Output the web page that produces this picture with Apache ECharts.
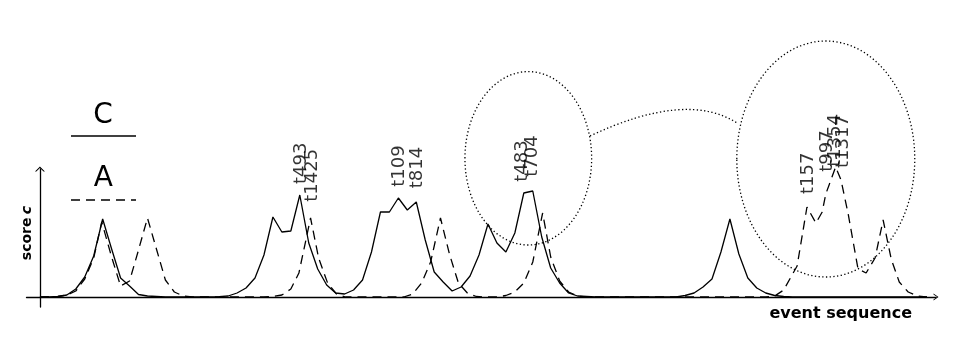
<!DOCTYPE html>
<html><head><meta charset="utf-8">
<script src="https://cdn.jsdelivr.net/npm/echarts@6/dist/echarts.min.js"></script>
<style>html,body{margin:0;padding:0;background:#fff}#c{width:963px;height:339px}</style>
</head><body><div id="c"></div>
<script>
// Series C (solid): score at each event index 0..99
const scoreC = [
  0, 0, 0.005, 0.02, 0.08, 0.20, 0.41, 0.78, 0.48, 0.19,
  0.11, 0.025, 0.01, 0.005, 0, 0, 0, 0, 0, 0,
  0.003, 0.01, 0.04, 0.09, 0.19, 0.42, 0.80, 0.65, 0.66, 1.02,
  0.54, 0.28, 0.12, 0.04, 0.03, 0.07, 0.17, 0.45, 0.85, 0.85,
  0.99, 0.87, 0.95, 0.57, 0.25, 0.15, 0.06, 0.10, 0.21, 0.42,
  0.73, 0.54, 0.45, 0.64, 1.04, 1.06, 0.60, 0.29, 0.14, 0.04,
  0.01, 0.005, 0, 0, 0, 0, 0, 0, 0, 0,
  0, 0, 0.015, 0.04, 0.10, 0.18, 0.45, 0.78, 0.43, 0.19,
  0.09, 0.04, 0.015, 0.005, 0, 0, 0, 0, 0, 0,
  0, 0, 0, 0, 0, 0, 0, 0, 0, 0
];
// Series A (dashed): event positions and scores
const eventA = [
  0, 2, 3, 4, 5, 6, 6.9, 8, 9, 10, 11, 12, 13, 14, 15, 16, 17,
  25, 26, 27, 28, 28.9, 30.2, 31.1, 32.1, 33.1, 34.1,
  40.6, 41.6, 42.6, 43.6, 44.7, 45.7, 46.7, 47.7, 48.7, 49.7,
  51, 52, 53, 54, 55, 56.1, 57, 58, 59, 60, 61,
  81, 82, 83, 84.5, 85.6, 86.6, 87.3, 87.7, 88.8, 89.4, 90.2, 91.3, 92.2, 93.2, 94.1, 95, 95.9, 96.9, 97.9, 98.9, 99
];
const scoreA = [
  0, 0.005, 0.02, 0.06, 0.18, 0.39, 0.75, 0.40, 0.11, 0.16, 0.47, 0.79, 0.48, 0.17, 0.05, 0.01, 0,
  0, 0.005, 0.02, 0.08, 0.24, 0.79, 0.39, 0.14, 0.03, 0,
  0, 0.03, 0.14, 0.35, 0.79, 0.43, 0.14, 0.04, 0.005, 0,
  0, 0.015, 0.05, 0.14, 0.35, 0.84, 0.40, 0.16, 0.05, 0.01, 0,
  0, 0.01, 0.07, 0.31, 0.90, 0.74, 0.85, 1.03, 1.30, 1.17, 0.83, 0.28, 0.24, 0.39, 0.77, 0.38, 0.15, 0.05, 0.01, 0, 0
];
// Peak annotations
const tagNames = ['t493', 't1425', 't109', 't814', 't483', 't704', 't157', 't997', 't1354', 't1317'];
const tagEvent = [29.13, 30.41, 40.07, 42.13, 53.85, 54.91, 85.77, 87.89, 88.73, 89.65];
const tagScore = [1.13, 0.953, 1.103, 1.087, 1.153, 1.203, 1.03, 1.253, 1.303, 1.29];
// Highlight zones (ellipses) and their link
const zoneEvent = [54.5, 87.7];
const zoneScore = [1.387, 1.38];
const zoneHalfEvent = [7.07, 9.93];
const zoneHalfScore = [0.867, 1.18];
const linkEvent = [61.38, 72.15, 77.79];
const linkScore = [1.61, 2.065, 1.74];
const seriesNames = ['C', 'A'];
const axisNames = ['event sequence', 'score', 'c'];

const FONT = 'DejaVu Sans';
const chart = echarts.init(document.getElementById('c'));
const arrowY = 'path://M5,0 L10,5 L8.6,5 L5,1.4 L1.4,5 L0,5 Z';
const arrowX = 'path://M3.5,0 L7,5 L6,5 L3.5,1.4 L1,5 L0,5 Z';

chart.setOption({
  animation: false,
  backgroundColor: '#fff',
  grid: {left: 26.5, right: 27, top: 169, bottom: 32},
  xAxis: {
    type: 'value', min: -1.5, max: 100,
    axisLine: {onZero: true, symbol: ['none', arrowX], symbolSize: [7, 5], lineStyle: {color: '#000', width: 1.3}},
    axisTick: {show: false}, axisLabel: {show: false}, splitLine: {show: false}
  },
  yAxis: {
    type: 'value', min: -0.1, max: 1.28,
    axisLine: {onZero: true, symbol: ['none', arrowY], symbolSize: [10, 5], lineStyle: {color: '#000', width: 1.3}},
    axisTick: {show: false}, axisLabel: {show: false}, splitLine: {show: false}
  },
  series: [
    {name: seriesNames[0], type: 'line', symbol: 'none', clip: false, silent: true,
     lineStyle: {color: '#000', width: 1.3},
     data: scoreC.map((v, i) => [i, v])},
    {name: seriesNames[1], type: 'line', symbol: 'none', clip: false, silent: true,
     lineStyle: {color: '#000', width: 1.3, type: [9, 6]},
     data: eventA.map((e, i) => [e, scoreA[i]])},
    {type: 'scatter', symbol: 'circle', symbolSize: 1, clip: false, silent: true, z: 5,
     itemStyle: {color: 'rgba(0,0,0,0)'},
     label: {show: true, formatter: '{b}', position: 'inside', rotate: 90, align: 'left', verticalAlign: 'middle',
             fontFamily: FONT, fontSize: 18, color: '#000'},
     data: tagNames.map((n, i) => ({name: n, value: [tagEvent[i], tagScore[i]]}))}
  ]
});

function px(e, s) { return chart.convertToPixel({gridIndex: 0}, [e, s]); }
const dotted = {fill: 'none', stroke: '#000', lineWidth: 1.3, lineDash: [1.3, 2.4]};
const graphics = [];
for (let k = 0; k < zoneEvent.length; k++) {
  const c = px(zoneEvent[k], zoneScore[k]);
  const ex = px(zoneEvent[k] + zoneHalfEvent[k], zoneScore[k]);
  const ey = px(zoneEvent[k], zoneScore[k] + zoneHalfScore[k]);
  graphics.push({type: 'ellipse', silent: true, shape: {cx: c[0], cy: c[1], rx: Math.abs(ex[0] - c[0]), ry: Math.abs(c[1] - ey[1])}, style: dotted});
}
const l0 = px(linkEvent[0], linkScore[0]), l1 = px(linkEvent[1], linkScore[1]), l2 = px(linkEvent[2], linkScore[2]);
graphics.push({type: 'bezierCurve', silent: true, shape: {x1: l0[0], y1: l0[1], cpx1: l1[0], cpy1: l1[1], x2: l2[0], y2: l2[1]}, style: dotted});
// Axis titles
graphics.push({type: 'text', x: 912, y: 314, silent: true, style: {text: axisNames[0], font: 'bold 16px "DejaVu Sans"', fill: '#000', align: 'right', verticalAlign: 'middle'}});
graphics.push({type: 'text', x: 27, y: 233, rotation: Math.PI / 2, silent: true,
  style: {text: '{a|' + axisNames[1] + '} {b|' + axisNames[2] + '}', align: 'center', verticalAlign: 'middle',
    rich: {a: {font: 'bold 14px "DejaVu Sans"', fill: '#000'}, b: {font: 'italic bold 14px "DejaVu Sans"', fill: '#000'}}}});
// Legend
graphics.push({type: 'text', x: 103, y: 115.3, silent: true, style: {text: seriesNames[0], font: '28px "DejaVu Sans"', fill: '#000', align: 'center', verticalAlign: 'middle'}});
graphics.push({type: 'line', silent: true, shape: {x1: 71, y1: 136, x2: 136, y2: 136}, style: {stroke: '#000', lineWidth: 1.3}});
graphics.push({type: 'text', x: 103.3, y: 179, silent: true, style: {text: seriesNames[1], font: '28px "DejaVu Sans"', fill: '#000', align: 'center', verticalAlign: 'middle'}});
graphics.push({type: 'line', silent: true, shape: {x1: 71, y1: 200, x2: 136, y2: 200}, style: {stroke: '#000', lineWidth: 1.3, lineDash: [9, 6]}});
chart.setOption({graphic: graphics});
</script>
</body></html>
